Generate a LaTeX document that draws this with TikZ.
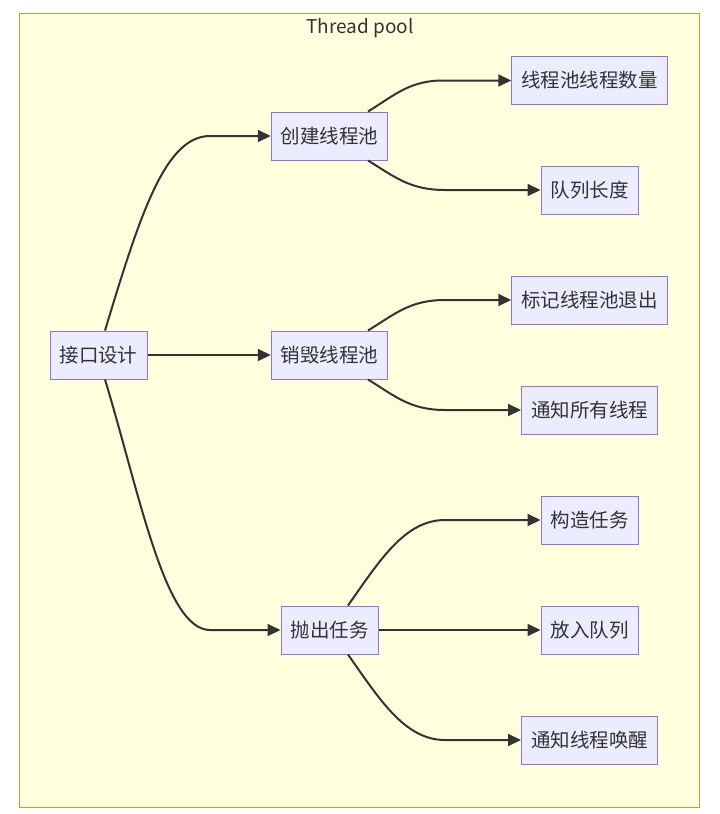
\documentclass[tikz,border=0pt]{standalone}
\usepackage{fontspec}
\newfontfamily\cjk{Noto Sans CJK SC}
\usetikzlibrary{arrows.meta}
\definecolor{nodefill}{HTML}{ECECFF}
\definecolor{nodeborder}{HTML}{9370DB}
\definecolor{clusterfill}{HTML}{FFFFDE}
\definecolor{clusterborder}{HTML}{AAAA33}
\definecolor{edgecol}{HTML}{333333}
\begin{document}
\begin{tikzpicture}[x=1pt,y=-1pt,
  box/.style={draw=nodeborder, fill=nodefill, line width=1pt, minimum height=48pt,
    inner xsep=9.5pt, inner ysep=0pt, font=\cjk\fontsize{19.5}{22}\selectfont, text=edgecol},
  edge/.style={draw=edgecol, line width=2pt, -{Triangle[length=13pt,width=12pt]}},
  cluster/.style={draw=clusterborder, fill=clusterfill, line width=1pt}]
\useasboundingbox[fill=white] (0,0) rectangle (720,814);
\draw[cluster] (19,13) rectangle (699,807);
\node[font=\cjk\fontsize{19}{22}\selectfont, text=edgecol] (title) at (360,28.5) {Thread pool};

\node[box] (iface) at (98.5,355) {接口设计};
\node[box] (create) at (329.5,136) {创建线程池};
\node[box] (destroy) at (329.5,355) {销毁线程池};
\node[box] (throw) at (329.5,630) {抛出任务};
\node[box] (count) at (589.5,80.5) {线程池线程数量};
\node[box] (qlen) at (589.5,190) {队列长度};
\node[box] (mark) at (589.5,300) {标记线程池退出};
\node[box] (notifyall) at (589.5,410) {通知所有线程};
\node[box] (build) at (589.5,520) {构造任务};
\node[box] (enq) at (589.5,630) {放入队列};
\node[box] (wake) at (589.5,740) {通知线程唤醒};

\draw[edge] ([xshift=6.5pt]iface.north) .. controls (140,215) and (165,136) .. (210,136) -- (create.west);
\draw[edge] (iface.east) -- (destroy.west);
\draw[edge] ([xshift=6.5pt]iface.south) .. controls (140,495) and (165,630) .. (210,630) -- (throw.west);

\draw[edge] ([xshift=38.5pt]create.north) .. controls (395,95) and (410,80) .. (445,80.5) -- (count.west);
\draw[edge] ([xshift=38.5pt]create.south) .. controls (395,177) and (410,190) .. (445,190) -- (qlen.west);

\draw[edge] ([xshift=38.5pt]destroy.north) .. controls (395,314) and (410,300) .. (445,300) -- (mark.west);
\draw[edge] ([xshift=38.5pt]destroy.south) .. controls (395,396) and (410,410) .. (445,410) -- (notifyall.west);

\draw[edge] ([xshift=18.5pt]throw.north) .. controls (380,560) and (405,520) .. (445,520) -- (build.west);
\draw[edge] (throw.east) -- (enq.west);
\draw[edge] ([xshift=18.5pt]throw.south) .. controls (380,700) and (405,740) .. (445,740) -- (wake.west);
\end{tikzpicture}
\end{document}
